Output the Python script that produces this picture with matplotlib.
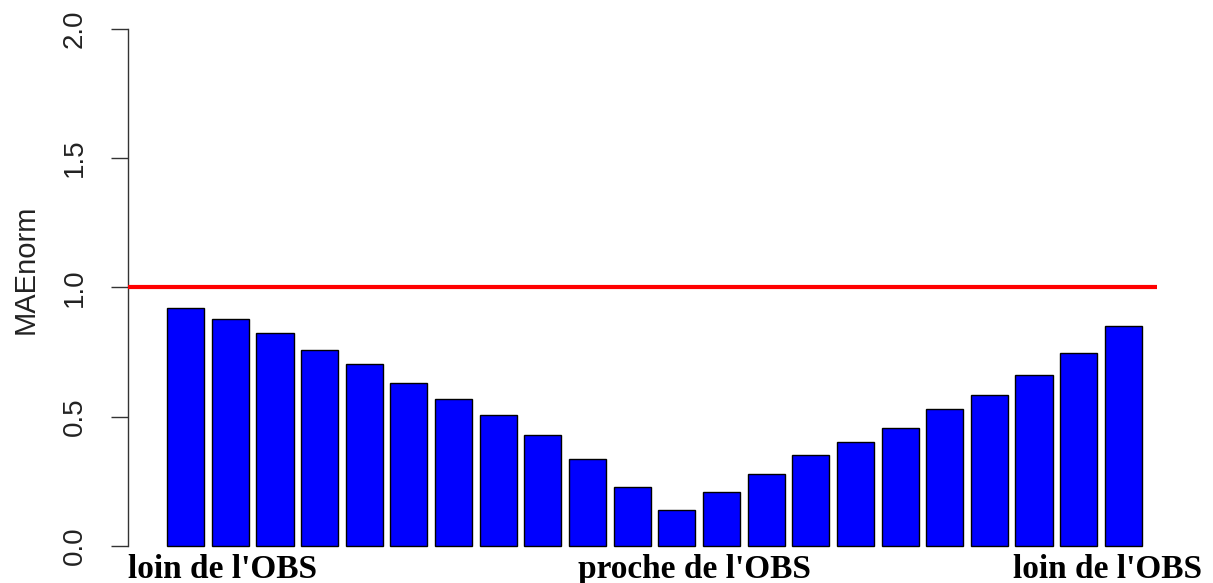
""" bar chart of MAE_norm vs distance to the OBS (R barplot look) """
import numpy as np
import matplotlib.pyplot as plt


# MAE_norm for each bar, far -> close -> far from the OBS
mae_norm = [0.919, 0.877, 0.824, 0.756, 0.703, 0.630, 0.567, 0.507,
            0.429, 0.335, 0.229, 0.140, 0.208, 0.277, 0.351, 0.403,
            0.456, 0.529, 0.582, 0.662, 0.746, 0.850]
ref_level = 1.0
yticks = [0.0, 0.5, 1.0, 1.5, 2.0]
ytick_labels = ['0.0', '0.5', '1.0', '1.5', '2.0']
bottom_labels = ["loin de l'OBS", "proche de l'OBS", "loin de l'OBS"]
ylabel = 'MAEnorm'

# layout (R style: width 1, space 0.2, 4% axis expansion)
BAR_W = 1.0
SPACE = 0.2
LABEL_X = [1.70, 14.37, 25.48]
W, H = 1213, 583


def main():
    n = len(mae_norm)
    pos = SPACE + 0.5*BAR_W + (BAR_W + SPACE)*np.arange(n)
    x_lo, x_hi = SPACE, n*(BAR_W + SPACE)
    pad = 0.04*(x_hi - x_lo)

    fig = plt.figure(figsize=(W/100, H/100), dpi=100)
    ax = fig.add_axes([128/W, 16.5/H, 1053/W, 558.2/H])
    ax.bar(pos, mae_norm, width=BAR_W, color='#0000ff',
           edgecolor='black', linewidth=1.0, zorder=2)
    ax.hlines(ref_level, x_lo - pad, x_hi + 0.4, color='red',
              linewidth=3, zorder=3)

    ax.set_xlim(x_lo - pad, x_hi + pad)
    ax.set_ylim(-0.08, 2.08)
    for side in ['top', 'right', 'bottom']:
        ax.spines[side].set_visible(False)
    ax.spines['left'].set_bounds(0, 2)
    ax.spines['left'].set_color('#333333')
    ax.spines['left'].set_linewidth(1.0)
    ax.set_xticks([])
    ax.set_yticks(yticks)
    ax.set_yticklabels(ytick_labels, rotation=90, va='center',
                       family='Liberation Sans', fontsize=20,
                       color='#222222')
    ax.tick_params(axis='y', length=12.2, width=1.0, pad=17,
                   color='#333333')

    for x, lab in zip(LABEL_X, bottom_labels):
        ax.text(x, -0.1246, lab, ha='center', va='baseline',
                family='Liberation Serif', fontweight='bold',
                fontsize=24, clip_on=False)

    fig.text(25.5/W, 1 - 269.5/H, ylabel, rotation=90, ha='center',
             va='center', family='Liberation Sans', fontsize=21,
             color='#222222')

    fig.savefig('out.png', dpi=100)


if __name__ == '__main__':
    main()
